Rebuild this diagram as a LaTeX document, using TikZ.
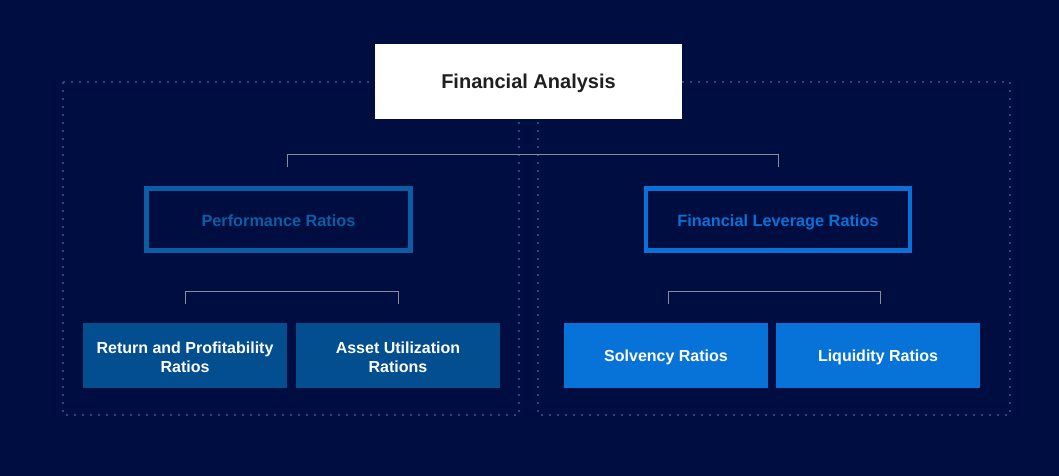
\documentclass[tikz,border=0pt]{standalone}
\usepackage{fontspec}
\setmainfont{Liberation Sans}
\begin{document}
\definecolor{bgnavy}{HTML}{000D40}
\definecolor{dotline}{HTML}{16507E}
\definecolor{darkblue}{HTML}{0B5EA6}
\definecolor{brightblue}{HTML}{0A71D8}
\definecolor{darkfill}{HTML}{034E8F}
\definecolor{brightfill}{HTML}{0773D8}
\definecolor{linkgray}{HTML}{8A8C9C}
% a label whose baseline sits #1 above the node centre
\newcommand{\onbase}[2]{\raisebox{#1}[0pt][0pt]{#2}}
\newcommand{\twolines}[2]{\onbase{2.2pt}{\begin{tabular}[t]{@{}c@{}}#1\\#2\end{tabular}}}
\begin{tikzpicture}[x=1pt,y=-1pt,
  groupframe/.style={draw=dotline, line width=1.8pt, dash pattern=on 1.8pt off 6.2pt},
  rootbox/.style={fill=white, text=black!88, font=\bfseries\fontsize{20}{24}\selectfont, minimum width=307pt, minimum height=75pt, inner sep=0pt},
  outlinebox/.style={line width=4.5pt, font=\bfseries\fontsize{16.3}{19}\selectfont, minimum width=264pt, minimum height=62pt, inner sep=0pt},
  leafbox/.style={text=white, font=\bfseries\fontsize{16}{19.5}\selectfont, minimum width=204pt, minimum height=65pt, inner sep=0pt},
  bracket/.style={draw=linkgray, line width=1pt}]
% background
\fill[bgnavy] (0,0) rectangle (1059,476);
\useasboundingbox (0,0) rectangle (1059,476);
% dotted group frames
\draw[groupframe] (63,82) rectangle (519,415);
\draw[groupframe] (538,82) rectangle (1010,415);
% root
\node[rootbox] (root) at (528.5,81.5) {\onbase{-7.3pt}{Financial Analysis}};
% second level
\node[outlinebox, draw=darkblue, text=darkblue] (perf) at (278.5,219.5) {\onbase{-6.5pt}{Performance Ratios}};
\node[outlinebox, draw=brightblue, text=brightblue] (lev) at (778,219.5) {\onbase{-6.5pt}{Financial Leverage Ratios}};
% leaves
\node[leafbox, fill=darkfill] (ret) at (185,355.5) {\twolines{Return and Profitability}{Ratios}};
\node[leafbox, fill=darkfill] (asset) at (398,355.5) {\twolines{Asset Utilization}{Rations}};
\node[leafbox, fill=brightfill] (solv) at (666,355.5) {\onbase{-6pt}{Solvency Ratios}};
\node[leafbox, fill=brightfill] (liq) at (878,355.5) {\onbase{-6pt}{Liquidity Ratios}};
% brackets
\coordinate (b1l) at (287,167); \coordinate (b1r) at (778,167);
\draw[bracket] (b1l) -- ++(0,-13) -| (b1r);
\coordinate (b2l) at (185,304); \coordinate (b2r) at (398,304);
\draw[bracket] (b2l) -- ++(0,-13) -| (b2r);
\coordinate (b3l) at (668,304); \coordinate (b3r) at (880,304);
\draw[bracket] (b3l) -- ++(0,-13) -| (b3r);
\end{tikzpicture}
\end{document}
